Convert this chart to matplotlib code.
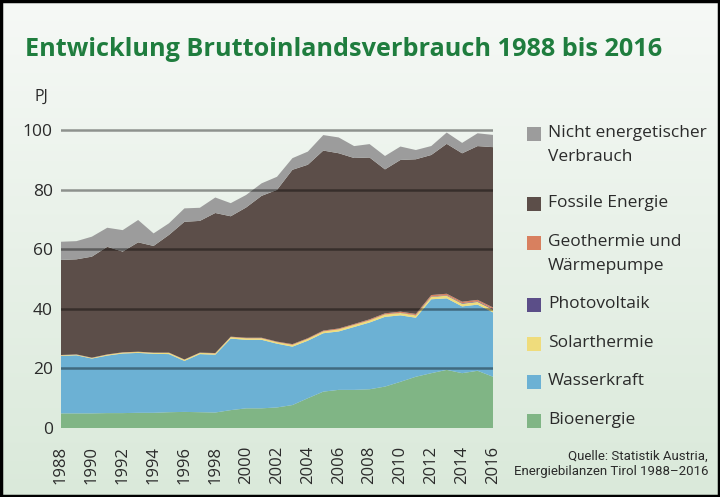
import matplotlib
matplotlib.use("Agg")
import matplotlib.pyplot as plt
import numpy as np
from matplotlib.patches import Rectangle

plt.rcParams['font.family'] = ['Open Sans', 'DejaVu Sans']

years = list(range(1988, 2017))
bioenergie = [4.9, 4.9, 4.9, 5.0, 5.0, 5.1, 5.1, 5.3, 5.4, 5.3, 5.2, 6.0, 6.6, 6.6, 6.9,
              7.7, 10.0, 12.2, 12.8, 12.8, 13.0, 13.9, 15.5, 17.2, 18.4, 19.5, 18.4, 19.2, 17.2]
wasserkraft = [19.3, 19.5, 18.4, 19.3, 20.0, 20.1, 19.8, 19.5, 17.1, 19.5, 19.4, 24.0, 23.0, 23.0, 21.4,
               19.6, 19.3, 19.6, 19.6, 21.1, 22.4, 23.4, 22.3, 19.8, 24.8, 24.0, 22.4, 22.2, 21.6]
solarthermie = [0.2, 0.2, 0.2, 0.3, 0.3, 0.3, 0.3, 0.4, 0.4, 0.4, 0.4, 0.5, 0.5, 0.5, 0.5,
                0.6, 0.6, 0.6, 0.7, 0.7, 0.7, 0.8, 0.8, 0.8, 0.8, 0.9, 0.9, 0.9, 0.9]
photovoltaik = [0, 0, 0, 0, 0, 0, 0, 0, 0, 0, 0, 0, 0, 0, 0,
                0, 0, 0, 0, 0, 0.02, 0.03, 0.05, 0.08, 0.12, 0.15, 0.18, 0.2, 0.25]
geothermie = [0.1, 0.1, 0.1, 0.1, 0.1, 0.1, 0.1, 0.1, 0.1, 0.1, 0.15, 0.15, 0.2, 0.2, 0.2,
              0.25, 0.25, 0.3, 0.3, 0.3, 0.35, 0.35, 0.4, 0.4, 0.5, 0.5, 0.5, 0.5, 0.5]
fossile = [31.9, 31.9, 33.9, 36.1, 33.8, 36.7, 35.8, 39.5, 46.2, 44.2, 47.0, 40.4, 43.7, 47.6, 50.9,
           58.5, 58.2, 60.4, 58.8, 55.7, 54.3, 48.3, 50.9, 51.9, 47.0, 50.3, 49.8, 51.6, 53.8]
nicht_energetisch = [6.1, 6.1, 6.7, 6.4, 7.2, 7.5, 4.2, 3.9, 4.5, 4.4, 5.2, 4.4, 4.2, 4.2, 4.4,
                     3.9, 4.4, 5.2, 5.3, 4.0, 4.5, 4.5, 4.5, 3.1, 3.0, 3.8, 3.5, 4.3, 4.1]

series = [bioenergie, wasserkraft, solarthermie, photovoltaik, geothermie, fossile, nicht_energetisch]
colors = ['#80b585', '#6cb1d4', '#efdc7c', '#5b4e88', '#d8805f', '#5c4e49', '#9c9c9c']
legend_labels = ['Nicht energetischer\nVerbrauch', 'Fossile Energie', 'Geothermie und\nWärmepumpe',
                 'Photovoltaik', 'Solarthermie', 'Wasserkraft', 'Bioenergie']
legend_colors = ['#9c9c9c', '#5c4e49', '#d8805f', '#5b4e88', '#efdc7c', '#6cb1d4', '#80b585']
yticks = [0, 20, 40, 60, 80, 100]
xticks = list(range(1988, 2017, 2))

W, H = 720, 497
fig = plt.figure(figsize=(W / 100, H / 100), dpi=100)

# background gradient
bg = fig.add_axes([0, 0, 1, 1], zorder=-10)
grad = np.linspace(0, 1, 256).reshape(-1, 1)
top = np.array([0.965, 0.975, 0.965])
bot = np.array([0.855, 0.915, 0.855])
img = top[None, None, :] * (1 - grad[:, :, None]) + bot[None, None, :] * grad[:, :, None]
bg.imshow(img, aspect='auto', extent=[0, 1, 0, 1])
bg.set_axis_off()

def px(x, y):
    return x / W, 1 - y / H

ymax = 103
ax_l, ax_r, y0px = 61, 493, 428
ppu = 2.98
ax = fig.add_axes([ax_l / W, (H - y0px) / H, (ax_r - ax_l) / W, ymax * ppu / H])
ax.set_facecolor('none')
ax.stackplot(years, *series, colors=colors, linewidth=0, zorder=1)
for y in [20, 40, 60, 80, 100]:
    ax.axhline(y, color='black', alpha=0.4, lw=1.8, zorder=3)
ax.set_xlim(1988, 2016)
ax.set_ylim(0, ymax)
for s in ax.spines.values():
    s.set_visible(False)
ax.set_yticks(yticks)
ax.set_yticklabels([str(v) for v in yticks], fontsize=12.5, color='#2b2b2b')
ax.set_xticks(xticks)
ax.set_xticklabels([str(v) for v in xticks], rotation=90, fontsize=12, color='#2b2b2b')
ax.tick_params(length=0, pad=6)
ax.tick_params(axis='x', pad=13)

# title and unit
fig.text(*px(25, 49), 'Entwicklung Bruttoinlandsverbrauch 1988 bis 2016', fontsize=18.2,
         fontweight='bold', color='#1f7d3e', va='center', ha='left')
fig.text(*px(34, 97), 'PJ', fontsize=11.5, color='#2b2b2b', va='center', ha='left')

# legend
entries_y = [134, 204, 243, 305, 344, 382, 421]
for lab, col, yy in zip(legend_labels, legend_colors, entries_y):
    x0, y0 = px(527, yy + 7)
    fig.patches.append(Rectangle((x0, y0), 14 / W, 14 / H, transform=fig.transFigure,
                                 facecolor=col, edgecolor='none'))
    fig.text(*px(548, yy - 9), lab, fontsize=12.5, color='#2b2b2b', va='top', ha='left',
             linespacing=1.7)

src_font = ['Roboto', 'DejaVu Sans']
fig.text(*px(708, 456), 'Quelle: Statistik Austria,', fontsize=9.5, color='#2b2b2b',
         ha='right', va='center', family=src_font)
fig.text(*px(708, 471), 'Energiebilanzen Tirol 1988–2016', fontsize=9.5, color='#2b2b2b',
         ha='right', va='center', family=src_font)

# frame
fig.patches.append(Rectangle((0.002, 0.003), 0.996, 0.994, transform=fig.transFigure,
                             facecolor='none', edgecolor='black', linewidth=2.5))

fig.savefig('out.png', dpi=100)
